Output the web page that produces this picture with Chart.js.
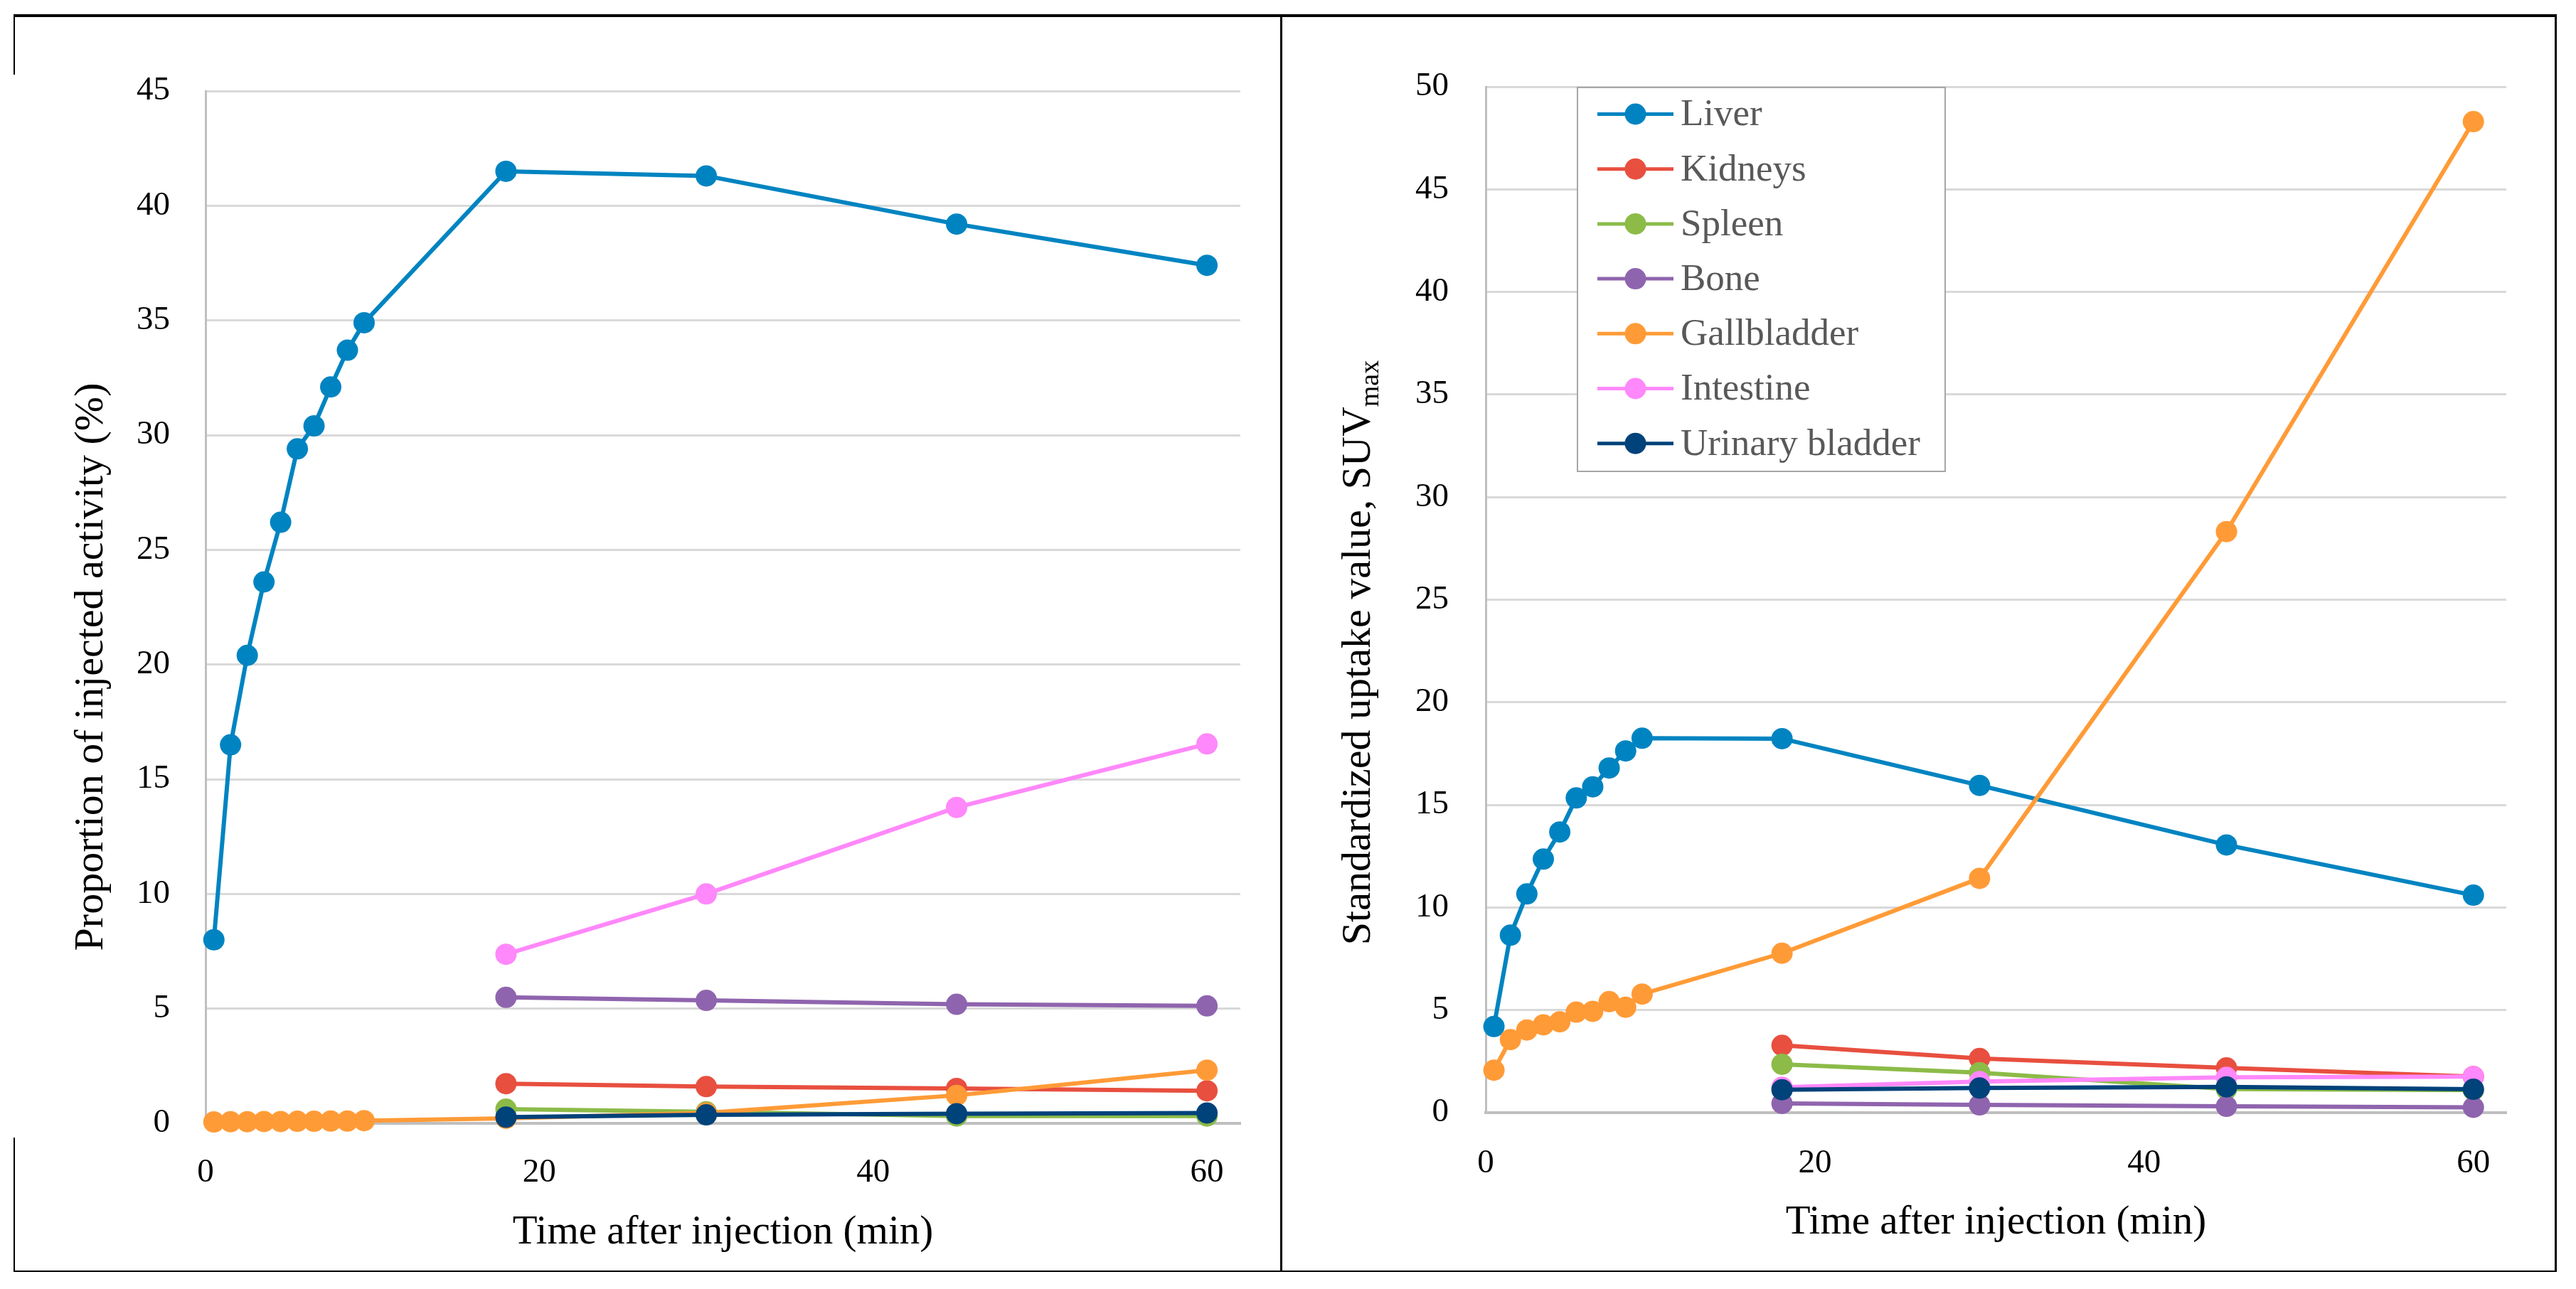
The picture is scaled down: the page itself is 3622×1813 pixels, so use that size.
<!DOCTYPE html>
<html><head><meta charset="utf-8">
<script src="https://cdn.jsdelivr.net/npm/chart.js@4.4.1/dist/chart.umd.min.js"></script>
<style>
html,body{margin:0;padding:0;background:#fff;width:3622px;height:1813px;overflow:hidden;}
canvas{position:absolute;top:0;}
.ln{position:absolute;background:#000;z-index:5;}
</style></head><body>
<canvas id="c1" width="1802" height="1813" style="left:0;width:1802px;height:1813px"></canvas>
<canvas id="c2" width="1820" height="1813" style="left:1802px;width:1820px;height:1813px"></canvas>
<div class="ln" style="left:19px;top:20px;width:3576px;height:4px"></div>
<div class="ln" style="left:19px;top:1787px;width:3576px;height:2px"></div>
<div class="ln" style="left:3592px;top:20px;width:3px;height:1769px"></div>
<div class="ln" style="left:1800px;top:20px;width:3px;height:1769px"></div>
<div class="ln" style="left:19px;top:20px;width:2px;height:85px"></div>
<div class="ln" style="left:19px;top:1600px;width:2px;height:189px"></div>
<script>
// ---- data ----
const seriesNames = ['Liver','Kidneys','Spleen','Bone','Gallbladder','Intestine','Urinary bladder'];
const seriesColors = ['#0084C1','#E84F3F','#8CBB48','#8F64AE','#FF9B37','#FF88FA','#00427A'];
const timesAll = [0.5,1.5,2.5,3.5,4.5,5.5,6.5,7.5,8.5,9.5,18,30,45,60];
const timesLate = [18,30,45,60];
const xTickValues = [0,20,40,60];

// Proportion of injected activity (%)
const liverPct     = [8.0,16.5,20.4,23.6,26.2,29.4,30.4,32.1,33.7,34.9,41.5,41.3,39.2,37.4];
const kidneysPct   = [1.73,1.6,1.52,1.42];
const spleenPct    = [0.62,0.5,0.32,0.32];
const bonePct      = [5.49,5.36,5.19,5.12];
const gallPct      = [0.06,0.07,0.07,0.08,0.08,0.09,0.09,0.1,0.1,0.12,0.22,0.46,1.22,2.32];
const intestinePct = [7.37,10.0,13.77,16.54];
const urinaryPct   = [0.27,0.37,0.42,0.45];

// SUVmax
const liverSuv     = [4.2,8.65,10.66,12.36,13.68,15.34,15.88,16.8,17.63,18.25,18.23,15.95,13.05,10.6];
const kidneysSuv   = [3.28,2.64,2.18,1.76];
const spleenSuv    = [2.36,1.95,1.15,1.1];
const boneSuv      = [0.45,0.38,0.31,0.26];
const gallSuv      = [2.07,3.56,4.03,4.28,4.43,4.9,4.94,5.41,5.14,5.78,7.77,11.42,28.32,48.3];
const intestineSuv = [1.24,1.52,1.72,1.76];
const urinarySuv   = [1.12,1.2,1.26,1.14];

const FONT = "'Liberation Serif', 'Times New Roman', serif";
Chart.defaults.font.family = FONT;

function pts(xs, ys){ return xs.map((x,i)=>({x:x, y:ys[i]})); }
function makeDatasets(valueSets){
  return valueSets.map((vs,i)=>({
    label: seriesNames[i],
    data: pts(vs.length === timesAll.length ? timesAll : timesLate, vs),
    borderColor: seriesColors[i],
    backgroundColor: seriesColors[i],
    pointBackgroundColor: seriesColors[i],
    pointBorderColor: seriesColors[i],
    pointBorderWidth: 0,
    pointRadius: 15,
    pointHoverRadius: 15,
    borderWidth: 6,
    tension: 0,
    fill: false,
    clip: false,
    order: seriesNames.length - i
  }));
}

const yTitlePlugin = {
  id: 'yTitle',
  afterDraw(chart, args, o){
    if (!o || !o.text) return;
    const ctx = chart.ctx;
    ctx.save();
    ctx.fillStyle = '#000';
    ctx.textBaseline = 'alphabetic';
    ctx.textAlign = 'left';
    const mainFont = o.size + 'px ' + FONT;
    const subFont = o.subSize + 'px ' + FONT;
    ctx.font = mainFont;
    const w1 = ctx.measureText(o.text).width;
    let w2 = 0;
    if (o.sub){ ctx.font = subFont; w2 = ctx.measureText(o.sub).width; }
    ctx.translate(o.x, o.cy + (w1 + w2)/2);
    ctx.rotate(-Math.PI/2);
    ctx.font = mainFont;
    ctx.fillText(o.text, 0, 0);
    if (o.sub){ ctx.font = subFont; ctx.fillText(o.sub, w1, o.subShift); }
    ctx.restore();
  }
};

const boxLegendPlugin = {
  id: 'boxLegend',
  afterDraw(chart, args, o){
    if (!o || !o.show) return;
    const ctx = chart.ctx;
    ctx.save();
    ctx.fillStyle = '#fff';
    ctx.fillRect(o.left, o.top, o.right - o.left, o.bottom - o.top);
    ctx.strokeStyle = '#a6a6a6';
    ctx.lineWidth = 2;
    ctx.strokeRect(o.left, o.top, o.right - o.left, o.bottom - o.top);
    chart.data.datasets.forEach((ds, i) => {
      const y = o.firstY + i * o.rowH;
      ctx.strokeStyle = ds.borderColor;
      ctx.lineWidth = 5;
      ctx.beginPath(); ctx.moveTo(o.lineX1, y); ctx.lineTo(o.lineX2, y); ctx.stroke();
      ctx.fillStyle = ds.borderColor;
      ctx.beginPath(); ctx.arc((o.lineX1 + o.lineX2)/2, y, 15, 0, Math.PI*2); ctx.fill();
      ctx.fillStyle = '#595959';
      ctx.font = o.fontSize + 'px ' + FONT;
      ctx.textBaseline = 'middle';
      ctx.textAlign = 'left';
      ctx.fillText(ds.label, o.textX, y + 2);
    });
    ctx.restore();
  }
};

function makeChart(canvasId, valueSets, cfg){
  return new Chart(document.getElementById(canvasId), {
    type: 'line',
    data: { datasets: makeDatasets(valueSets) },
    options: {
      responsive: false,
      animation: false,
      devicePixelRatio: 1,
      events: [],
      layout: { padding: { top: cfg.padTop, right: cfg.padRight, left: 0, bottom: 0 } },
      plugins: {
        legend: { display: false },
        tooltip: { enabled: false },
        title: { display: false },
        yTitle: cfg.yTitle,
        boxLegend: cfg.legend
      },
      scales: {
        x: {
          type: 'linear', min: 0, max: 62,
          afterBuildTicks: s => { s.ticks = xTickValues.map(v => ({ value: v })); },
          afterFit: s => { s.height = cfg.xHeight; },
          grid: { display: false, drawTicks: false },
          border: { display: true, color: '#bfbfbf', width: 4 },
          ticks: { padding: cfg.xTickPad, color: '#000', font: { size: 47 } },
          title: { display: true, text: 'Time after injection (min)', color: '#000',
                   font: { size: 57 }, padding: { top: 0, bottom: cfg.xTitlePad } }
        },
        y: {
          min: 0, max: cfg.yMax,
          afterFit: s => { s.width = cfg.yWidth; },
          ticks: { stepSize: 5, padding: cfg.yTickPad, color: '#000', font: { size: 47 } },
          grid: { drawTicks: false,
                  color: c => (c.tick && c.tick.value === 0) ? '#bfbfbf' : '#d9d9d9',
                  lineWidth: c => (c.tick && c.tick.value === 0) ? 4 : 3 },
          border: { display: true, color: '#bfbfbf', width: 3 }
        }
      }
    },
    plugins: [yTitlePlugin, boxLegendPlugin]
  });
}

makeChart('c1', [liverPct, kidneysPct, spleenPct, bonePct, gallPct, intestinePct, urinaryPct], {
  padTop: 128, padRight: 58, yWidth: 289, xHeight: 233, yMax: 45,
  xTickPad: 41, yTickPad: 50, xTitlePad: 45,
  yTitle: { text: 'Proportion of injected activity (%)', size: 58, x: 144, cy: 938 },
  legend: { show: false }
});

makeChart('c2', [liverSuv, kidneysSuv, spleenSuv, boneSuv, gallSuv, intestineSuv, urinarySuv], {
  padTop: 122, padRight: 98, yWidth: 287, xHeight: 248, yMax: 50,
  xTickPad: 43, yTickPad: 52, xTitlePad: 59,
  yTitle: { text: 'Standardized uptake value, SUV', sub: 'max', size: 58, subSize: 38, subShift: 12, x: 124, cy: 918 },
  legend: { show: true, left: 416, right: 933, top: 123, bottom: 663,
            lineX1: 444, lineX2: 551, textX: 561, firstY: 160.5, rowH: 77.2, fontSize: 53 }
});
</script>
</body></html>
